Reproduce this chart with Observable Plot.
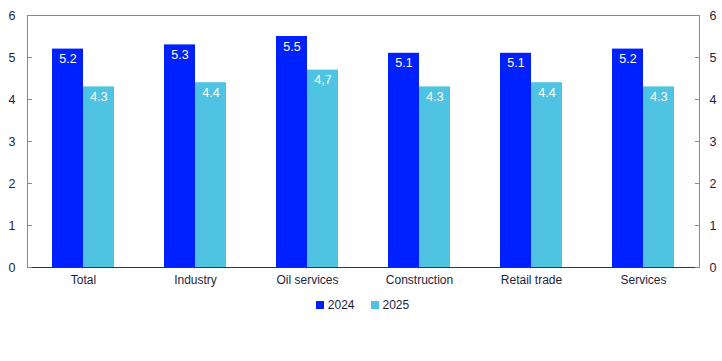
<!DOCTYPE html>
<html>
<head>
<meta charset="utf-8">
<script src="https://cdn.jsdelivr.net/npm/d3@7"></script>
<script src="https://cdn.jsdelivr.net/npm/@observablehq/plot@0.6"></script>
<style>
  body { margin: 0; background: #fff; font-family: "Liberation Sans", Arial, sans-serif; color: #1e1e3c; }
  #chart { width: 722px; }
  .legend { display: flex; justify-content: center; align-items: center; width: 722px; padding-left: 3px; box-sizing: border-box; margin-top: 8px; font-size: 12px; line-height: 14px; }
  .item { display: flex; align-items: center; margin: 0 8px; }
  .sw { width: 8px; height: 8px; margin-right: 4px; }
</style>
</head>
<body>
<div id="chart"></div>
<script>
const categories = ["Total", "Industry", "Oil services", "Construction", "Retail trade", "Services"];
const series = ["2024", "2025"];
const values2024 = [5.2, 5.3, 5.5, 5.1, 5.1, 5.2];
const values2025 = [4.3, 4.4, 4.7, 4.3, 4.4, 4.3];
const labels2024 = ["5.2", "5.3", "5.5", "5.1", "5.1", "5.2"];
const labels2025 = ["4.3", "4.4", "4,7", "4.3", "4.4", "4.3"];
const yTicks = [0, 1, 2, 3, 4, 5, 6];
const colors = ["#0021ff", "#4fc4e2"];

const data = [];
categories.forEach((c, i) => {
  data.push({cat: c, series: "2024", value: values2024[i], label: labels2024[i]});
  data.push({cat: c, series: "2025", value: values2025[i], label: labels2025[i]});
});

const ink = "#1e1e3c";
const grey = "#8a8a8a";

const chart = Plot.plot({
  width: 722,
  height: 290,
  marginLeft: 25,
  marginRight: 22,
  marginTop: 15,
  marginBottom: 23,
  style: {fontFamily: '"Liberation Sans", Arial, sans-serif', fontSize: "12px", color: ink, background: "#fff"},
  fx: {domain: categories, padding: 0, label: null, axis: null},
  x: {domain: series, paddingInner: 0, paddingOuter: 0.76, axis: null},
  y: {domain: [0, 6], axis: null},
  color: {domain: series, range: colors},
  marks: [
    Plot.frame({facet: "super", stroke: grey}),
    Plot.barY(data, {fx: "cat", x: "series", y: "value", fill: "series"}),
    Plot.text(data, {fx: "cat", x: "series", y: "value", text: "label", dy: 10, fill: "white", fontSize: 12.5}),
    Plot.ruleY([0], {stroke: "#333"}),
    Plot.axisY(yTicks, {anchor: "left", tickSize: -5, stroke: grey, tickFormat: () => "", label: null}),
    Plot.axisY(yTicks, {anchor: "left", tickSize: 0, tickPadding: 12, fill: ink, label: null, fontSize: 12.5}),
    Plot.axisY(yTicks, {anchor: "right", tickSize: -5, stroke: grey, tickFormat: () => "", label: null}),
    Plot.axisY(yTicks, {anchor: "right", tickSize: 0, tickPadding: 10, fill: ink, label: null, fontSize: 12.5}),
    Plot.axisFx({anchor: "bottom", tickSize: 0, tickPadding: 8, label: null, fill: ink})
  ]
});
document.getElementById("chart").appendChild(chart);

const legend = document.createElement("div");
legend.className = "legend";
series.forEach((s, i) => {
  const item = document.createElement("div");
  item.className = "item";
  const sw = document.createElement("span");
  sw.className = "sw";
  sw.style.background = colors[i];
  const t = document.createElement("span");
  t.textContent = s;
  item.appendChild(sw);
  item.appendChild(t);
  legend.appendChild(item);
});
document.body.appendChild(legend);
</script>
</body>
</html>
